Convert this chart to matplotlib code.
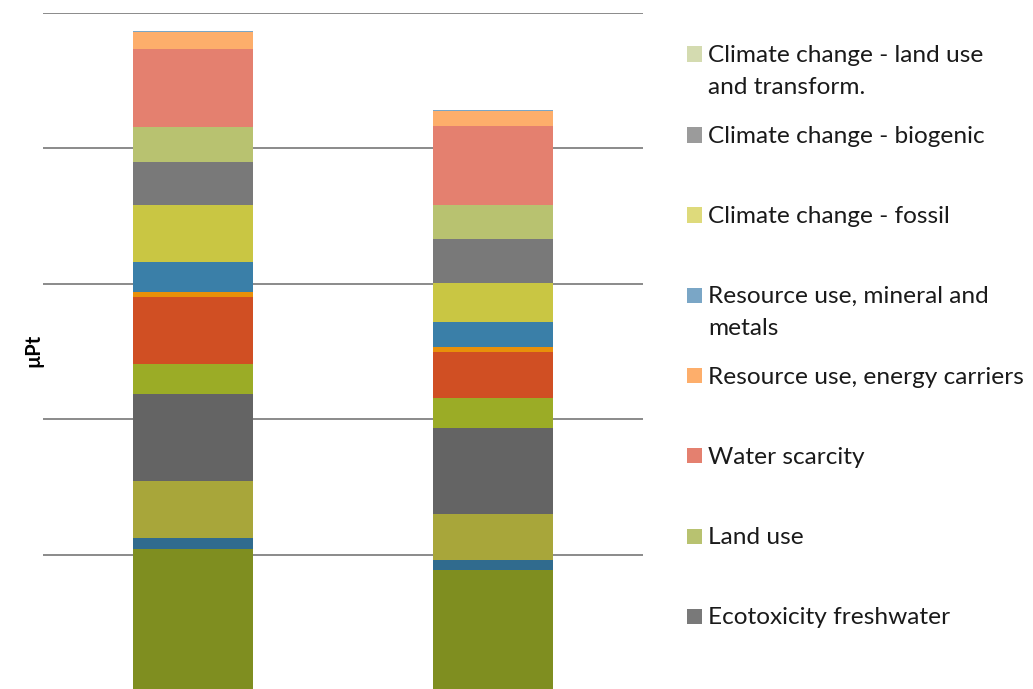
import matplotlib
matplotlib.use("Agg")
import matplotlib.pyplot as plt
from matplotlib.patches import Rectangle
import numpy as np

# Two products compared, single-score results in µPt (stack order: bottom to top)
products = ["A", "B"]

# Lower impact categories (their legend entries fall below the listed ones)
lower_colors = ["#7F8E20", "#306B8E", "#A8A63A", "#646464", "#9BAC26",
                "#D04F23", "#E8900A", "#3A7FA8", "#C9C643"]
lower_values = [
    [1.041, 0.886],
    [0.081, 0.076],
    [0.421, 0.335],
    [0.644, 0.639],
    [0.219, 0.219],
    [0.497, 0.342],
    [0.035, 0.035],
    [0.224, 0.187],
    [0.421, 0.286],
]

# Named categories, listed top of the stack first (legend order)
legend_labels = [
    "Climate change - land use\nand transform.",
    "Climate change - biogenic",
    "Climate change - fossil",
    "Resource use, mineral and\nmetals",
    "Resource use, energy carriers",
    "Water scarcity",
    "Land use",
    "Ecotoxicity freshwater",
]
legend_colors = ["#D4DBB0", "#9B9B9B", "#DEDA7B", "#7AA6C6",
                 "#FDAE6B", "#E4806F", "#B8C270", "#797979"]
named_values = [
    [0.000, 0.000],
    [0.000, 0.000],
    [0.000, 0.000],
    [0.006, 0.006],
    [0.120, 0.117],
    [0.580, 0.580],
    [0.254, 0.254],
    [0.317, 0.320],
]

W, H = 1033, 689
fig = plt.figure(figsize=(W / 100, H / 100), dpi=100)
plt.rcParams["font.family"] = ["Lato", "DejaVu Sans"]

ax_left, ax_right = 43, 643
ax_top, ax_bottom = 12.5, 690
ax = fig.add_axes([ax_left / W, (H - ax_bottom) / H,
                   (ax_right - ax_left) / W, (ax_bottom - ax_top) / H])

x = np.arange(len(products))
bottom = np.zeros(len(products))

stack_values = lower_values + named_values[::-1]
stack_colors = lower_colors + legend_colors[::-1]
for vals, col in zip(stack_values, stack_colors):
    vals = np.array(vals)
    ax.bar(x, vals, width=0.4, bottom=bottom, color=col, zorder=3,
           edgecolor="none")
    bottom += vals

ax.set_xlim(-0.5, 1.5)
ax.set_ylim(0, 5)
ax.set_yticks([1, 2, 3, 4, 5])
ax.yaxis.grid(True, color="#8A8A8A", linewidth=1.4, zorder=0)
ax.set_xticks([])
ax.tick_params(left=False, labelleft=False)
for s in ax.spines.values():
    s.set_visible(False)

fig.text(33 / W, 1 - 350 / H, "µPt", rotation=90, ha="center", va="center",
         fontsize=14.5, fontweight="bold", color="#000000")

# Legend drawn at fixed slots on the right; wrapped labels continue below
marker_y = [54, 135, 215, 295, 375.5, 455.7, 536, 616.5]
line_step = 32
for lab, col, my in zip(legend_labels, legend_colors, marker_y):
    fig.patches.append(Rectangle((687 / W, 1 - (my + 7.5) / H), 15 / W, 15 / H,
                                 transform=fig.transFigure, facecolor=col,
                                 edgecolor="none"))
    for i, line in enumerate(lab.split("\n")):
        fig.text(708 / W, 1 - (my + 8 + i * line_step) / H, line,
                 ha="left", va="baseline", fontsize=17.6, color="#1A1A1A")

fig.savefig("out.png", dpi=100)
